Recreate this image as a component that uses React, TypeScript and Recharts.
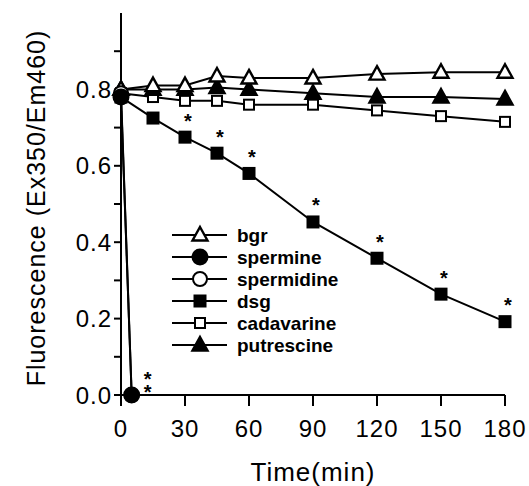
import { LabelList, Label, Legend, Line, LineChart, XAxis, YAxis } from 'recharts'

const TIMES = [0, 15, 30, 45, 60, 90, 120, 150, 180]
const BGR = [0.8, 0.81, 0.81, 0.835, 0.83, 0.83, 0.84, 0.845, 0.845]
const PUTRESCINE = [0.8, 0.8, 0.8, 0.805, 0.8, 0.79, 0.78, 0.78, 0.775]
const CADAVARINE = [0.79, 0.78, 0.77, 0.77, 0.76, 0.76, 0.745, 0.73, 0.715]
const DSG = [0.78, 0.725, 0.675, 0.633, 0.58, 0.453, 0.358, 0.264, 0.192]

const DROP_TIMES = [0, 5]
const SPERMINE = [0.78, 0]
const SPERMIDINE = [0.79, 0]

const X_TICKS = [0, 30, 60, 90, 120, 150, 180]
const Y_TICKS = [0, 0.1, 0.2, 0.3, 0.4, 0.5, 0.6, 0.7, 0.8, 0.9]
const Y_LABELED = [0, 0.2, 0.4, 0.6, 0.8]

const FONT = '"Liberation Sans", Arial, Helvetica, sans-serif'

type Shape = 'triangle' | 'circle' | 'square'

type Series = {
  name: string
  shape: Shape
  filled: boolean
  times: number[]
  values: number[]
}

const SERIES: Series[] = [
  { name: 'bgr', shape: 'triangle', filled: false, times: TIMES, values: BGR },
  { name: 'spermine', shape: 'circle', filled: true, times: DROP_TIMES, values: SPERMINE },
  { name: 'spermidine', shape: 'circle', filled: false, times: DROP_TIMES, values: SPERMIDINE },
  { name: 'dsg', shape: 'square', filled: true, times: TIMES, values: DSG },
  { name: 'cadavarine', shape: 'square', filled: false, times: TIMES, values: CADAVARINE },
  { name: 'putrescine', shape: 'triangle', filled: true, times: TIMES, values: PUTRESCINE },
]

// drawing order: black dots of spermine end up on top
const DRAW_ORDER = ['cadavarine', 'putrescine', 'bgr', 'dsg', 'spermidine', 'spermine']

const toPoints = (times: number[], values: number[]) => times.map((t, i) => ({ t, v: values[i] }))

function Marker({ cx, cy, shape, filled }: { cx: number; cy: number; shape: Shape; filled: boolean }) {
  const fill = filled ? '#000' : '#fff'
  if (shape === 'triangle') {
    return (
      <polygon
        points={`${cx},${cy - 8} ${cx + 7.5},${cy + 5.5} ${cx - 7.5},${cy + 5.5}`}
        fill={fill}
        stroke="#000"
        strokeWidth={2.4}
      />
    )
  }
  if (shape === 'square') {
    const s = filled ? 11 : 10
    return <rect x={cx - s / 2} y={cy - s / 2} width={s} height={s} fill={fill} stroke="#000" strokeWidth={2} />
  }
  return <circle cx={cx} cy={cy} r={filled ? 7.5 : 7} fill={fill} stroke="#000" strokeWidth={2} />
}

// significance stars; `stack` draws several stars above each other in one text
function starRenderer(fromIndex: number, dx: number, dy: number, stack = 1) {
  return (props: any) => {
    const { x, y, index } = props
    if (index < fromIndex || x == null || y == null) return null
    return (
      <text
        key={`star-${index}`}
        x={x + dx}
        y={y + dy + 11.5}
        textAnchor="middle"
        fontFamily={FONT}
        fontWeight="bold"
        fontSize={20}
        fill="#000"
      >
        {Array.from({ length: stack }, (_, k) => (
          <tspan key={k} x={x + dx} dy={k === 0 ? 0 : 13}>
            *
          </tspan>
        ))}
      </text>
    )
  }
}

function XTick({ x, y, payload }: any) {
  return (
    <text x={x} y={y + 29} textAnchor="middle" fontFamily={FONT} fontSize={24} letterSpacing={1} fill="#000">
      {payload.value}
    </text>
  )
}

function YTick({ x, y, payload }: any) {
  const v = payload.value as number
  if (!Y_LABELED.some((l) => Math.abs(l - v) < 1e-6)) return null
  return (
    <text x={x} y={y + 8.5} textAnchor="end" fontFamily={FONT} fontSize={24} letterSpacing={1} fill="#000">
      {v.toFixed(1)}
    </text>
  )
}

function LegendBox() {
  return (
    <svg width={200} height={140} style={{ display: 'block' }}>
      {SERIES.map((s, i) => {
        const cy = 12 + i * 22
        return (
          <g key={s.name}>
            <line x1={4} x2={59} y1={cy} y2={cy} stroke="#000" strokeWidth={2} />
            <Marker cx={32} cy={cy} shape={s.shape} filled={s.filled} />
            <text x={69} y={cy + 7} fontFamily={FONT} fontWeight="bold" fontSize={19} fill="#000">
              {s.name}
            </text>
          </g>
        )
      })}
    </svg>
  )
}

export default function App() {
  const ordered = DRAW_ORDER.map((n) => SERIES.find((s) => s.name === n)!)
  return (
    <div style={{ width: 529, height: 486, background: '#fff' }}>
      <style>{'body { margin: 0; overflow: hidden; }'}</style>
      <LineChart width={529} height={486} margin={{ top: 13, right: 24, left: 0, bottom: 0 }}>
        <XAxis
          dataKey="t"
          type="number"
          domain={[0, 180]}
          ticks={X_TICKS}
          allowDuplicatedCategory={false}
          height={91}
          tickSize={11}
          tickMargin={2}
          axisLine={{ stroke: '#000', strokeWidth: 2 }}
          tickLine={{ stroke: '#000', strokeWidth: 2 }}
          tick={<XTick />}
        >
          <Label
            content={(props: any) => {
              const vb = props.viewBox
              return (
                <text
                  x={vb.x + vb.width / 2}
                  y={vb.y + 86}
                  textAnchor="middle"
                  fontFamily={FONT}
                  fontSize={26}
                  letterSpacing={1}
                  fill="#000"
                >
                  Time(min)
                </text>
              )
            }}
          />
        </XAxis>
        <YAxis
          type="number"
          domain={[0, 1]}
          ticks={Y_TICKS}
          width={121}
          tickSize={7}
          tickMargin={2}
          interval={0}
          axisLine={{ stroke: '#000', strokeWidth: 2 }}
          tickLine={{ stroke: '#000', strokeWidth: 2 }}
          tick={<YTick />}
        >
          <Label
            content={(props: any) => {
              const vb = props.viewBox
              const cx = 45
              const cy = vb.y + vb.height / 2 + 4
              return (
                <text
                  x={cx}
                  y={cy}
                  transform={`rotate(-90, ${cx}, ${cy})`}
                  textAnchor="middle"
                  fontFamily={FONT}
                  fontSize={25}
                  letterSpacing={1}
                  fill="#000"
                >
                  Fluorescence (Ex350/Em460)
                </text>
              )
            }}
          />
        </YAxis>
        <Legend
          layout="vertical"
          align="center"
          verticalAlign="middle"
          wrapperStyle={{ left: 168, top: 223, width: 200, height: 140 }}
          content={() => <LegendBox />}
        />
        {ordered.map((s) => (
          <Line
            key={s.name}
            name={s.name}
            data={toPoints(s.times, s.values)}
            dataKey="v"
            stroke="#000"
            strokeWidth={2}
            isAnimationActive={false}
            dot={(p: any) => (
              <Marker key={`${s.name}-${p.index}`} cx={p.cx} cy={p.cy} shape={s.shape} filled={s.filled} />
            )}
            activeDot={false}
          >
            {s.name === 'dsg' && <LabelList dataKey="v" content={starRenderer(2, 3, -21)} />}
            {s.name === 'spermine' && <LabelList dataKey="v" content={starRenderer(1, 16, -21, 2)} />}
          </Line>
        ))}
      </LineChart>
    </div>
  )
}
